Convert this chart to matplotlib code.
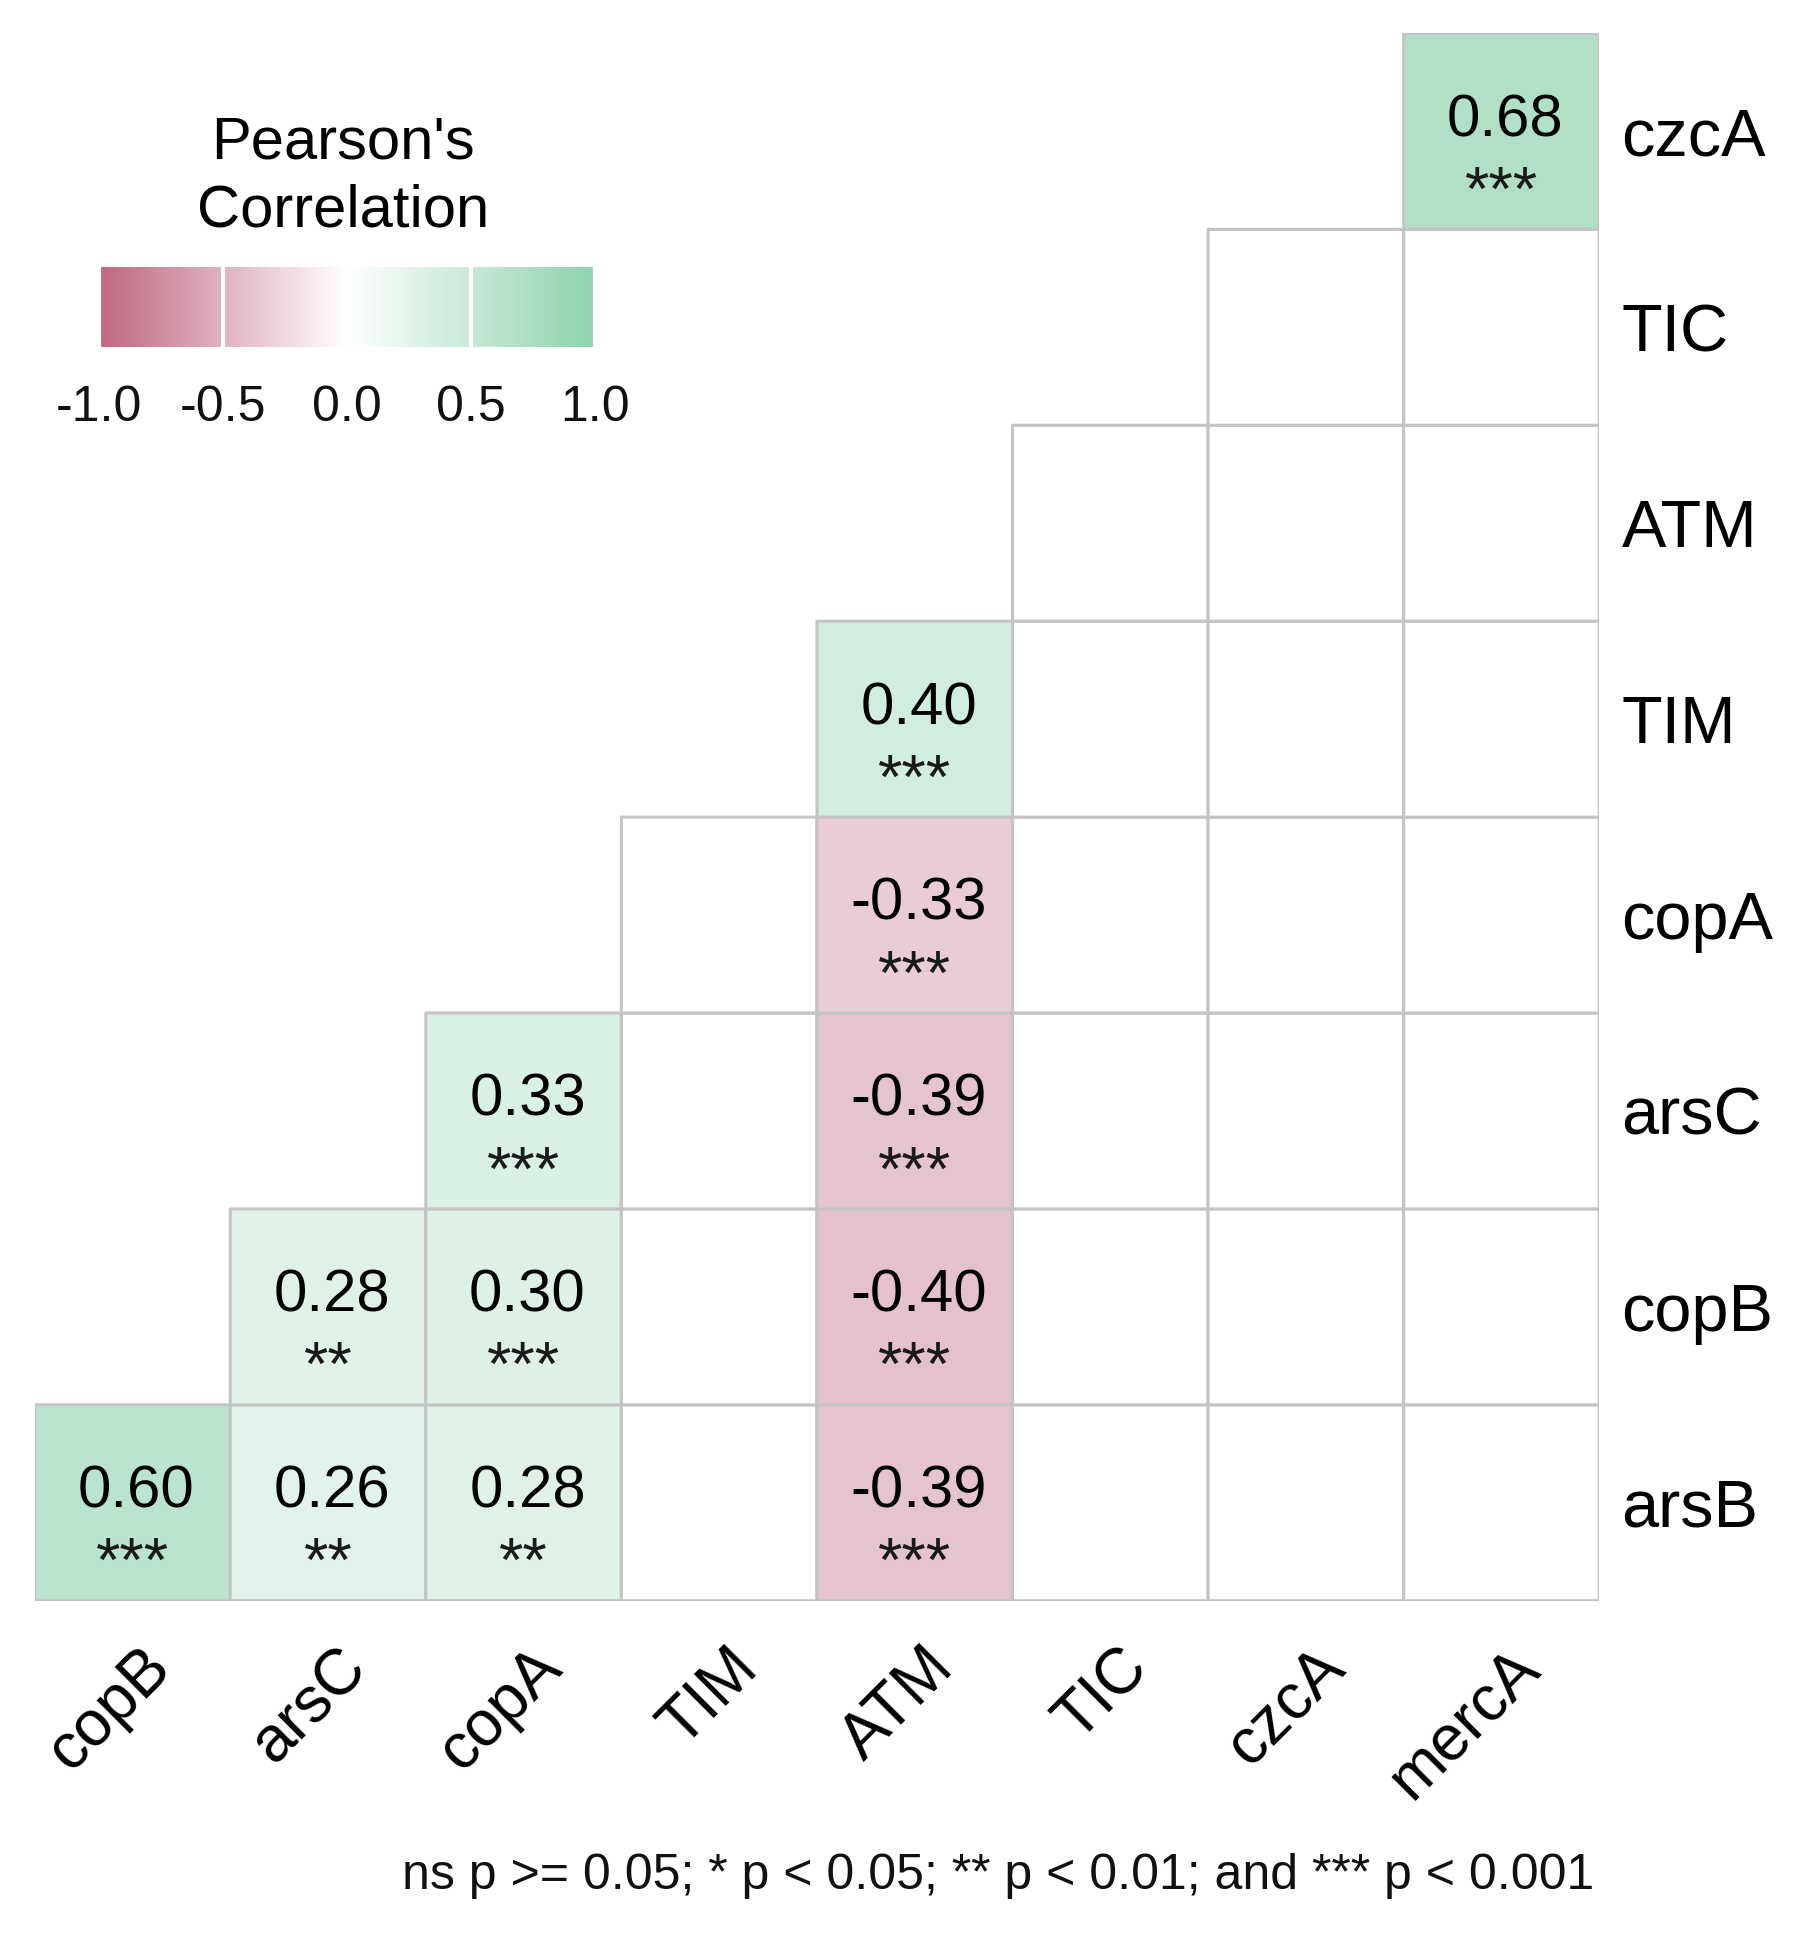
import numpy as np
import matplotlib
matplotlib.use("Agg")
import matplotlib.pyplot as plt
from matplotlib.colors import LinearSegmentedColormap, Normalize
from matplotlib.transforms import ScaledTranslation

plt.rcParams['font.family'] = ['Liberation Sans', 'DejaVu Sans']

# variables on the x axis (left to right) and y axis (bottom to top)
x_vars = ['copB', 'arsC', 'copA', 'TIM', 'ATM', 'TIC', 'czcA', 'mercA']
y_vars = ['arsB', 'copB', 'arsC', 'copA', 'TIM', 'ATM', 'TIC', 'czcA']

# significant correlations only (None = not significant, left blank)
r_arsB = [0.60, 0.26, 0.28, None, -0.39, None, None, None]
r_copB = [None, 0.28, 0.30, None, -0.40, None, None, None]
r_arsC = [None, None, 0.33, None, -0.39, None, None, None]
r_copA = [None, None, None, None, -0.33, None, None, None]
r_TIM = [None, None, None, None, 0.40, None, None, None]
r_ATM = [None, None, None, None, None, None, None, None]
r_TIC = [None, None, None, None, None, None, None, None]
r_czcA = [None, None, None, None, None, None, None, 0.68]

s_arsB = ['***', '**', '**', '', '***', '', '', '']
s_copB = ['', '**', '***', '', '***', '', '', '']
s_arsC = ['', '', '***', '', '***', '', '', '']
s_copA = ['', '', '', '', '***', '', '', '']
s_TIM = ['', '', '', '', '***', '', '', '']
s_ATM = ['', '', '', '', '', '', '', '']
s_TIC = ['', '', '', '', '', '', '', '']
s_czcA = ['', '', '', '', '', '', '', '***']

corr_rows = [r_arsB, r_copB, r_arsC, r_copA, r_TIM, r_ATM, r_TIC, r_czcA]
star_rows = [s_arsB, s_copB, s_arsC, s_copA, s_TIM, s_ATM, s_TIC, s_czcA]

footnote = "ns p >= 0.05; * p < 0.05; ** p < 0.01; and *** p < 0.001"

n = len(x_vars)
mat = np.zeros((n, n))
mask = np.zeros((n, n), dtype=bool)
for i in range(n):
    for j in range(n):
        if j < i:
            mask[i, j] = True   # outside lower triangle
        elif corr_rows[i][j] is not None:
            mat[i, j] = corr_rows[i][j]
mat = np.ma.masked_array(mat, mask=mask)

cmap = LinearSegmentedColormap.from_list('pg', ['#bf6680', '#ffffff', '#8ed2ae'])
norm = Normalize(-1, 1)

fig = plt.figure(figsize=(18.05, 19.45), dpi=100)
ax = fig.add_axes([0.0192, 0.177, 0.8668, 0.8058])
ax.pcolor(np.arange(n + 1) - 0.5, np.arange(n + 1) - 0.5, mat, cmap=cmap, norm=norm,
          edgecolors='#c4c4c4', linewidth=2.2)
ax.set_xlim(-0.5, n - 0.5)
ax.set_ylim(-0.5, n - 0.5)
for sp in ax.spines.values():
    sp.set_visible(False)

for i in range(n):
    for j in range(n):
        v = corr_rows[i][j]
        if v is None or j < i:
            continue
        ax.text(j + 0.02, i - 0.025, f"{v:.2f}", ha='center', va='baseline', fontsize=43)
        ax.text(j, i - 0.40, star_rows[i][j], ha='center', va='baseline', fontsize=45,
                color='#1a1a1a')

ax.yaxis.tick_right()
ax.set_yticks(range(n))
ax.set_yticklabels(y_vars, fontsize=48)
ax.tick_params(axis='y', length=0, pad=16)
ax.set_xticks(range(n))
ax.set_xticklabels(x_vars, fontsize=46, rotation=45, ha='right', va='top')
ax.tick_params(axis='x', length=0, pad=26)
shift = ScaledTranslation(0.5, 0, fig.dpi_scale_trans)
for lab in ax.get_xticklabels():
    lab.set_transform(lab.get_transform() + shift)

# colour legend
cax = fig.add_axes([0.0549, 0.8214, 0.2748, 0.0415])
cb = fig.colorbar(plt.cm.ScalarMappable(norm=norm, cmap=cmap), cax=cax,
                  orientation='horizontal', ticks=[-1, -0.5, 0, 0.5, 1])
cb.outline.set_visible(False)
cb.set_ticklabels(['-1.0', '-0.5', '0.0', '0.5', '1.0'])
cax.tick_params(axis='x', direction='in', length=60, width=3, color='white',
                labelsize=36, pad=27, labelcolor='#111111')
fig.text(0.19, 0.909, "Pearson's\nCorrelation", ha='center', va='center',
         fontsize=43, linespacing=1.3)

fig.text(0.883, 0.0357, footnote, ha='right', va='center', fontsize=36,
         color='#111111')

fig.savefig('out.png', dpi=100)
